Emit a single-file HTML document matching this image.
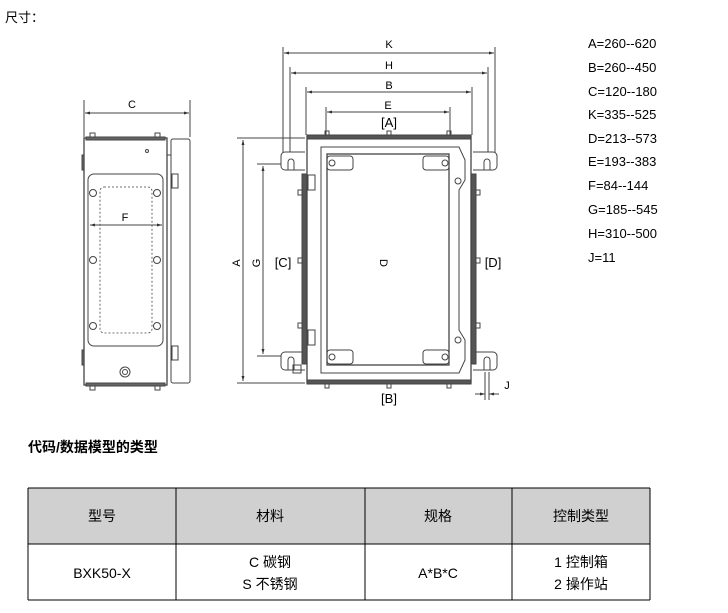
<!DOCTYPE html>
<html><head><meta charset="utf-8"><style>
body{margin:0;background:#fff;width:728px;height:613px;overflow:hidden;font-family:"Liberation Sans","Noto Sans CJK SC",sans-serif;}
svg{position:absolute;left:0;top:0}
</style></head><body>
<svg width="728" height="613" viewBox="0 0 728 613" font-family="Liberation Sans, Noto Sans CJK SC, sans-serif">
<defs>
<marker id="a" viewBox="0 0 10 10" refX="10" refY="5" markerWidth="8" markerHeight="5" orient="auto-start-reverse"><path d="M0,2L10,5L0,8z" fill="#333"/></marker>
</defs>
<text x="5" y="22" font-size="13">尺寸：</text>
<g font-size="13" fill="#000">
<text x="588" y="48">A=260--620</text><text x="588" y="72">B=260--450</text><text x="588" y="96">C=120--180</text>
<text x="588" y="119">K=335--525</text><text x="588" y="143">D=213--573</text><text x="588" y="166">E=193--383</text>
<text x="588" y="190">F=84--144</text><text x="588" y="214">G=185--545</text><text x="588" y="238">H=310--500</text>
<text x="588" y="262">J=11</text>
</g>
<!-- side view -->
<g stroke="#444" fill="none" stroke-width="1">
<line x1="84" y1="100" x2="84" y2="137"/><line x1="190" y1="100" x2="190" y2="137"/>
<line x1="85" y1="113" x2="189" y2="113" marker-start="url(#a)" marker-end="url(#a)"/>
<rect x="84" y="138" width="83" height="247" fill="#fff" stroke-width="1.3"/>
<rect x="86" y="137" width="79" height="3" fill="#666"/>
<rect x="86" y="383" width="79" height="3" fill="#666"/>
<rect x="90" y="133" width="5" height="4"/><rect x="155" y="133" width="5" height="4"/>
<rect x="90" y="386" width="5" height="4"/><rect x="155" y="386" width="5" height="4"/>
<rect x="171" y="139" width="19" height="244" rx="2"/>
<line x1="167" y1="155" x2="171" y2="155"/>
<rect x="88" y="174" width="75" height="172" rx="6"/>
<rect x="100" y="187" width="52" height="146" rx="4" stroke-dasharray="2,2" stroke-width="0.8"/>
<circle cx="93" cy="193" r="3.5"/><circle cx="157" cy="193" r="3.5"/>
<circle cx="93" cy="260" r="3.5"/><circle cx="157" cy="260" r="3.5"/>
<circle cx="93" cy="326" r="3.5"/><circle cx="157" cy="326" r="3.5"/>
<line x1="90" y1="225" x2="162" y2="225" marker-start="url(#a)" marker-end="url(#a)"/>
<circle cx="125" cy="372" r="5"/><circle cx="125" cy="372" r="2.5"/>
<circle cx="147" cy="151" r="1.5"/>
<rect x="172" y="174" width="6" height="14"/><rect x="172" y="346" width="6" height="14"/>
<rect x="82" y="155" width="2" height="15" fill="#666"/><rect x="82" y="350" width="2" height="15" fill="#666"/>
</g>
<text x="132" y="108" font-size="11" text-anchor="middle">C</text>
<text x="125" y="221" font-size="11" text-anchor="middle">F</text>
<!-- front view -->
<g stroke="#444" fill="none" stroke-width="1">
<line x1="283" y1="47" x2="283" y2="165"/><line x1="495" y1="47" x2="495" y2="165"/>
<line x1="284" y1="53" x2="494" y2="53" marker-start="url(#a)" marker-end="url(#a)"/>
<line x1="290" y1="67" x2="290" y2="165"/><line x1="488" y1="67" x2="488" y2="165"/>
<line x1="291" y1="73" x2="487" y2="73" marker-start="url(#a)" marker-end="url(#a)"/>
<line x1="306" y1="87" x2="306" y2="135"/><line x1="472" y1="87" x2="472" y2="135"/>
<line x1="307" y1="92" x2="471" y2="92" marker-start="url(#a)" marker-end="url(#a)"/>
<line x1="326" y1="107" x2="326" y2="150"/><line x1="450" y1="107" x2="450" y2="150"/>
<line x1="327" y1="112" x2="449" y2="112" marker-start="url(#a)" marker-end="url(#a)"/>
<line x1="237" y1="138" x2="305" y2="138"/><line x1="237" y1="383" x2="305" y2="383"/>
<line x1="243" y1="140" x2="243" y2="381" marker-start="url(#a)" marker-end="url(#a)"/>
<line x1="257" y1="164" x2="290" y2="164"/><line x1="257" y1="356" x2="290" y2="356"/>
<line x1="263" y1="166" x2="263" y2="354" marker-start="url(#a)" marker-end="url(#a)"/>
<line x1="384" y1="156" x2="384" y2="363" marker-start="url(#a)" marker-end="url(#a)" stroke-dasharray="4,2"/>
<!-- ears -->
<path d="M305,152 h-20 a4,4 0 0 0 -4,4 v10 a4,4 0 0 0 4,4 h20" fill="#fff"/>
<path d="M473,152 h20 a4,4 0 0 1 4,4 v10 a4,4 0 0 1 -4,4 h-20" fill="#fff"/>
<path d="M305,352 h-20 a4,4 0 0 0 -4,4 v10 a4,4 0 0 0 4,4 h20" fill="#fff"/>
<path d="M473,352 h20 a4,4 0 0 1 4,4 v10 a4,4 0 0 1 -4,4 h-20" fill="#fff"/>
<path d="M288,162 a3,3 0 0 1 6,0 v8 M288,162 v8"/><path d="M484,162 a3,3 0 0 1 6,0 v8 M484,162 v8"/>
<path d="M288,360 a3,3 0 0 1 6,0 v10 M288,360 v10"/><path d="M484,360 a3,3 0 0 1 6,0 v10 M484,360 v10"/>
<rect x="302" y="174" width="5" height="190" fill="#555"/>
<rect x="471" y="174" width="5" height="190" fill="#555"/>
<rect x="307" y="136" width="164" height="247" fill="#fff" stroke-width="1.3"/>
<rect x="307" y="135" width="164" height="4" fill="#555"/>
<rect x="307" y="380" width="164" height="4" fill="#555"/>
<rect x="325" y="131" width="4" height="4"/><rect x="387" y="131" width="4" height="4"/><rect x="447" y="131" width="4" height="4"/>
<rect x="325" y="384" width="4" height="4"/><rect x="387" y="384" width="4" height="4"/><rect x="447" y="384" width="4" height="4"/>
<rect x="298" y="190" width="4" height="5"/><rect x="298" y="258" width="4" height="5"/><rect x="298" y="323" width="4" height="5"/>
<rect x="476" y="190" width="4" height="5"/><rect x="476" y="258" width="4" height="5"/><rect x="476" y="323" width="4" height="5"/>
<path d="M321,147 H459 L465,160 V180 L459,190 V330 L465,340 V360 L459,373 H321 Z"/>
<rect x="327" y="154" width="122" height="211" stroke-width="1.3"/>
<rect x="327" y="156" width="26" height="14" rx="3"/><rect x="423" y="156" width="26" height="14" rx="3"/>
<rect x="327" y="350" width="26" height="14" rx="3"/><rect x="423" y="350" width="26" height="14" rx="3"/>
<circle cx="332" cy="163" r="3"/><circle cx="445" cy="163" r="3"/><circle cx="332" cy="357" r="3"/><circle cx="445" cy="357" r="3"/>
<circle cx="458" cy="181" r="3"/><circle cx="458" cy="340" r="3"/>
<rect x="308" y="175" width="7" height="15"/><rect x="308" y="330" width="7" height="15"/>
<rect x="293" y="365" width="8" height="8"/>
<line x1="485" y1="372" x2="485" y2="400"/><line x1="489" y1="372" x2="489" y2="400"/>
<line x1="475" y1="394" x2="485" y2="394" marker-end="url(#a)"/><line x1="499" y1="394" x2="489" y2="394" marker-end="url(#a)"/>
</g>
<g font-size="11" text-anchor="middle">
<text x="389" y="48">K</text><text x="389" y="69">H</text><text x="389" y="89">B</text><text x="388" y="109">E</text>
<text x="389" y="127" font-size="13">[A]</text><text x="389" y="403" font-size="13">[B]</text>
<text x="283" y="267" font-size="13">[C]</text><text x="493" y="267" font-size="13">[D]</text>
<text x="507" y="389">J</text>
<text transform="translate(240,263) rotate(-90)">A</text>
<text transform="translate(260,263) rotate(-90)">G</text>
<text transform="translate(380,263) rotate(90)">D</text>
</g>
<text x="28" y="452" font-size="14" font-weight="bold">代码/数据模型的类型</text>
<!-- table -->
<rect x="28" y="488" width="622" height="56" fill="#d0d0d0"/>
<g stroke="#000" stroke-width="1">
<line x1="28" y1="488" x2="650" y2="488"/><line x1="28" y1="544" x2="650" y2="544"/><line x1="28" y1="600" x2="650" y2="600"/>
<line x1="28" y1="488" x2="28" y2="600"/><line x1="176" y1="488" x2="176" y2="600"/><line x1="365" y1="488" x2="365" y2="600"/>
<line x1="512" y1="488" x2="512" y2="600"/><line x1="650" y1="488" x2="650" y2="600"/>
</g>
<g font-size="14" text-anchor="middle">
<text x="102" y="521">型号</text><text x="270" y="521">材料</text><text x="438" y="521">规格</text><text x="581" y="521">控制类型</text>
<text x="102" y="578">BXK50-X</text><text x="270" y="567">C 碳钢</text><text x="270" y="589">S 不锈钢</text>
<text x="438" y="578">A*B*C</text><text x="581" y="567">1 控制箱</text><text x="581" y="589">2 操作站</text>
</g>
</svg>
</body></html>
